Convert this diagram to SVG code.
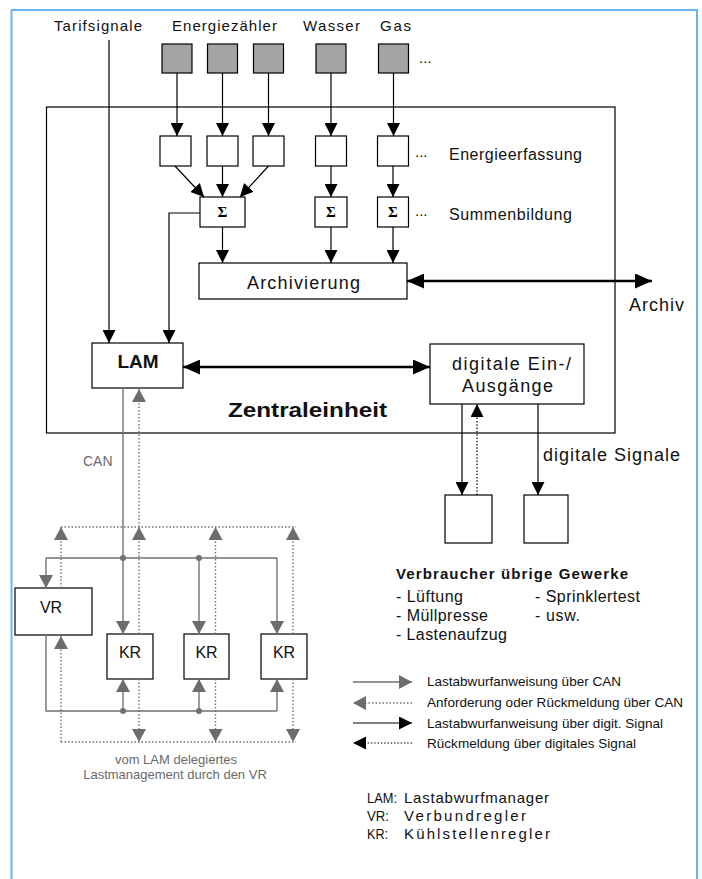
<svg xmlns="http://www.w3.org/2000/svg" width="702" height="879" viewBox="0 0 702 879">
<style>
.t{font-family:"Liberation Sans",Arial,sans-serif;fill:#111}
.b{font-weight:bold}
.g{fill:#6a6a6a}
.sig{font-family:"Liberation Serif","Times New Roman",serif;font-weight:bold;font-size:15px;fill:#000}
.box{fill:#fff;stroke:#000;stroke-width:1.2}
.gbox{fill:#a4a4a4;stroke:#000;stroke-width:1.2}
.ln{stroke:#000;stroke-width:1.2;fill:none}
.thk{stroke:#000;stroke-width:2.4;fill:none}
.bdot{stroke:#000;stroke-width:1.2;stroke-dasharray:1.5 1.8;fill:none}
.can{stroke:#717171;stroke-width:1.4;fill:none}
.dot{stroke:#717171;stroke-width:1.4;stroke-dasharray:1.5 2;fill:none}
</style>
<defs>
<marker id="ab" markerUnits="userSpaceOnUse" markerWidth="13" markerHeight="13" refX="13" refY="6.5" orient="auto-start-reverse"><path d="M0,0 L13,6.5 L0,13 z" fill="#000"/></marker>
<marker id="abig" markerUnits="userSpaceOnUse" markerWidth="17" markerHeight="15" refX="17" refY="7.5" orient="auto-start-reverse"><path d="M0,0 L17,7.5 L0,15 z" fill="#000"/></marker>
<marker id="ag" markerUnits="userSpaceOnUse" markerWidth="13" markerHeight="14" refX="13" refY="7" orient="auto-start-reverse"><path d="M0,0 L13,7 L0,14 z" fill="#6c6c6c"/></marker>
</defs>
<rect width="702" height="879" fill="#fff"/>
<path d="M11.5,885 V10 H697 V885" fill="none" stroke="#6cb4f2" stroke-width="2"/>

<g id="zentraleinheit">
<rect x="46.5" y="107" width="568.5" height="326" class="box"/>
<text class="t b" x="228" y="417" font-size="20" textLength="159" lengthAdjust="spacingAndGlyphs">Zentraleinheit</text>
</g>

<g id="labels-top">
<text class="t" x="54" y="31" font-size="15" textLength="88">Tarifsignale</text>
<text class="t" x="172" y="31" font-size="15" textLength="105">Energiezähler</text>
<text class="t" x="303" y="31" font-size="15" textLength="57">Wasser</text>
<text class="t" x="380" y="31" font-size="15" textLength="31">Gas</text>
<text class="t" x="419" y="63" font-size="15">...</text>
</g>

<g id="zaehler">
<rect class="gbox" x="162" y="44" width="30" height="29"/>
<rect class="gbox" x="207.5" y="44" width="30" height="29"/>
<rect class="gbox" x="253.5" y="44" width="30" height="29"/>
<rect class="gbox" x="316" y="44" width="30" height="29"/>
<rect class="gbox" x="378.5" y="44" width="30" height="29"/>
</g>

<g id="energieerfassung">
<rect class="box" x="160" y="136" width="31" height="30"/>
<rect class="box" x="207" y="136" width="31" height="30"/>
<rect class="box" x="253" y="136" width="31" height="30"/>
<rect class="box" x="315.5" y="136" width="31" height="30"/>
<rect class="box" x="377.5" y="136" width="31" height="30"/>
<text class="t" x="415" y="157" font-size="15">...</text>
<text class="t" x="449" y="160" font-size="16" textLength="133">Energieerfassung</text>
</g>

<g id="summenbildung">
<rect class="box" x="200" y="197" width="45" height="30"/>
<rect class="box" x="315" y="197" width="32" height="30"/>
<rect class="box" x="377.5" y="197" width="31" height="30"/>
<text class="sig" x="222.5" y="217" text-anchor="middle">Σ</text>
<text class="sig" x="331" y="217" text-anchor="middle">Σ</text>
<text class="sig" x="393" y="217" text-anchor="middle">Σ</text>
<text class="t" x="415" y="216" font-size="15">...</text>
<text class="t" x="449" y="220" font-size="16" textLength="123">Summenbildung</text>
</g>

<g id="archivierung">
<rect class="box" x="199" y="263" width="208" height="36"/>
<text class="t" x="247" y="289" font-size="18" textLength="113" fill="#222">Archivierung</text>
</g>
<g id="archiv"><text class="t" x="629" y="311" font-size="18" textLength="55">Archiv</text></g>

<g id="lam">
<rect class="box" x="92" y="343" width="91" height="45"/>
<text class="t b" x="138" y="368" font-size="19" text-anchor="middle">LAM</text>
</g>

<g id="digio">
<rect class="box" x="430" y="344" width="154" height="60"/>
<text class="t" x="452" y="370" font-size="18" textLength="119">digitale Ein-/</text>
<text class="t" x="462" y="392" font-size="18" textLength="91">Ausgänge</text>
</g>
<g id="digsig"><text class="t" x="543" y="461" font-size="18" textLength="137">digitale Signale</text></g>

<g id="verbraucher1"><rect class="box" x="445" y="495" width="47" height="48"/></g>
<g id="verbraucher2"><rect class="box" x="524" y="495" width="44" height="48"/></g>

<g id="vr">
<rect class="box" x="15" y="588" width="77" height="47"/>
<text class="t" x="51" y="613" font-size="16" text-anchor="middle">VR</text>
</g>
<g id="kr1"><rect class="box" x="107" y="634" width="46" height="45"/><text class="t" x="130" y="658" font-size="16" text-anchor="middle">KR</text></g>
<g id="kr2"><rect class="box" x="184" y="634" width="45" height="45"/><text class="t" x="206.5" y="658" font-size="16" text-anchor="middle">KR</text></g>
<g id="kr3"><rect class="box" x="261" y="634" width="46" height="45"/><text class="t" x="284" y="658" font-size="16" text-anchor="middle">KR</text></g>

<g id="net-labels">
<text class="t g" x="83" y="466" font-size="14">CAN</text>
<text class="t g" x="176" y="764" font-size="13" text-anchor="middle">vom LAM delegiertes</text>
<text class="t g" x="175" y="779" font-size="13" text-anchor="middle">Lastmanagement durch den VR</text>
</g>

<g id="connectors">
<path class="ln" d="M109,40 V343" marker-end="url(#ab)"/>
<path class="ln" d="M177,73 V136" marker-end="url(#ab)"/>
<path class="ln" d="M222.5,73 V136" marker-end="url(#ab)"/>
<path class="ln" d="M268.5,73 V136" marker-end="url(#ab)"/>
<path class="ln" d="M331,73 V136" marker-end="url(#ab)"/>
<path class="ln" d="M393.5,73 V136" marker-end="url(#ab)"/>
<path class="ln" d="M175,166 L204,197" marker-end="url(#ab)"/>
<path class="ln" d="M222.5,166 V197" marker-end="url(#ab)"/>
<path class="ln" d="M268.5,166 L240,197" marker-end="url(#ab)"/>
<path class="ln" d="M331,166 V197" marker-end="url(#ab)"/>
<path class="ln" d="M393,166 V197" marker-end="url(#ab)"/>
<path class="ln" d="M200,213 H169 V343" marker-end="url(#ab)"/>
<path class="ln" d="M222.5,227 V263" marker-end="url(#ab)"/>
<path class="ln" d="M331,227 V263" marker-end="url(#ab)"/>
<path class="ln" d="M393,227 V263" marker-end="url(#ab)"/>
<path class="thk" d="M407,281 H652" marker-start="url(#abig)" marker-end="url(#abig)"/>
<path class="thk" d="M183,367 H430" marker-start="url(#abig)" marker-end="url(#abig)"/>
<path class="ln" d="M462,404 V495" marker-end="url(#ab)"/>
<path class="bdot" d="M477,495 V404" marker-end="url(#ab)"/>
<path class="ln" d="M538,404 V495" marker-end="url(#ab)"/>

<path class="can" d="M123,388 V634" marker-end="url(#ag)"/>
<path class="can" d="M46,558 H277"/>
<path class="can" d="M46,558 V588" marker-end="url(#ag)"/>
<path class="can" d="M199,558 V634" marker-end="url(#ag)"/>
<path class="can" d="M277,558 V634" marker-end="url(#ag)"/>
<path class="can" d="M46,635 V711 H277"/>
<path class="can" d="M123,711 V679" marker-end="url(#ag)"/>
<path class="can" d="M199,711 V679" marker-end="url(#ag)"/>
<path class="can" d="M277,711 V679" marker-end="url(#ag)"/>
<circle cx="123" cy="558" r="3" fill="#717171"/>
<circle cx="199" cy="558" r="3" fill="#717171"/>
<circle cx="123" cy="711" r="3" fill="#717171"/>
<circle cx="199" cy="711" r="3" fill="#717171"/>

<path class="dot" d="M61,527 H296"/>
<path class="dot" d="M61,588 V527" marker-end="url(#ag)"/>
<path class="dot" d="M139,634 V527" marker-end="url(#ag)"/>
<path class="dot" d="M139,527 V389" marker-end="url(#ag)"/>
<path class="dot" d="M215.5,634 V527" marker-end="url(#ag)"/>
<path class="dot" d="M293,634 V527" marker-end="url(#ag)"/>
<path class="dot" d="M61,742 H296"/>
<path class="dot" d="M61,742 V636" marker-end="url(#ag)"/>
<path class="dot" d="M139,679 V742" marker-end="url(#ag)"/>
<path class="dot" d="M215.5,679 V742" marker-end="url(#ag)"/>
<path class="dot" d="M293,679 V742" marker-end="url(#ag)"/>
</g>

<g id="legend-verbraucher">
<text class="t b" x="396" y="579" font-size="15" textLength="232">Verbraucher übrige Gewerke</text>
<text class="t" x="396" y="602" font-size="16" textLength="67">- Lüftung</text>
<text class="t" x="396" y="621" font-size="16" textLength="92">- Müllpresse</text>
<text class="t" x="396" y="640" font-size="16" textLength="111">- Lastenaufzug</text>
<text class="t" x="535" y="602" font-size="16" textLength="105">- Sprinklertest</text>
<text class="t" x="535" y="621" font-size="16" textLength="45">- usw.</text>
</g>

<g id="legend-arrows">
<path class="can" d="M353,682 H412" marker-end="url(#ag)"/>
<path class="dot" d="M412,703 H353" marker-end="url(#ag)"/>
<path class="ln" d="M353,723 H412" marker-end="url(#ab)"/>
<path class="bdot" d="M412,743 H353" marker-end="url(#ab)"/>
<text class="t" x="427" y="686" font-size="13.5" textLength="194">Lastabwurfanweisung über CAN</text>
<text class="t" x="427" y="707" font-size="13.5" textLength="256">Anforderung oder Rückmeldung über CAN</text>
<text class="t" x="427" y="728" font-size="13.5" textLength="236">Lastabwurfanweisung über digit. Signal</text>
<text class="t" x="427" y="748" font-size="13.5" textLength="209">Rückmeldung über digitales Signal</text>
</g>

<g id="legend-abk">
<text class="t" x="367" y="803" font-size="15" textLength="30" lengthAdjust="spacingAndGlyphs">LAM:</text>
<text class="t" x="404" y="803" font-size="15" textLength="145">Lastabwurfmanager</text>
<text class="t" x="367" y="821" font-size="15" textLength="22" lengthAdjust="spacingAndGlyphs">VR:</text>
<text class="t" x="404" y="821" font-size="15" textLength="122">Verbundregler</text>
<text class="t" x="367" y="839" font-size="15" textLength="21" lengthAdjust="spacingAndGlyphs">KR:</text>
<text class="t" x="404" y="839" font-size="15" textLength="146">Kühlstellenregler</text>
</g>
</svg>
